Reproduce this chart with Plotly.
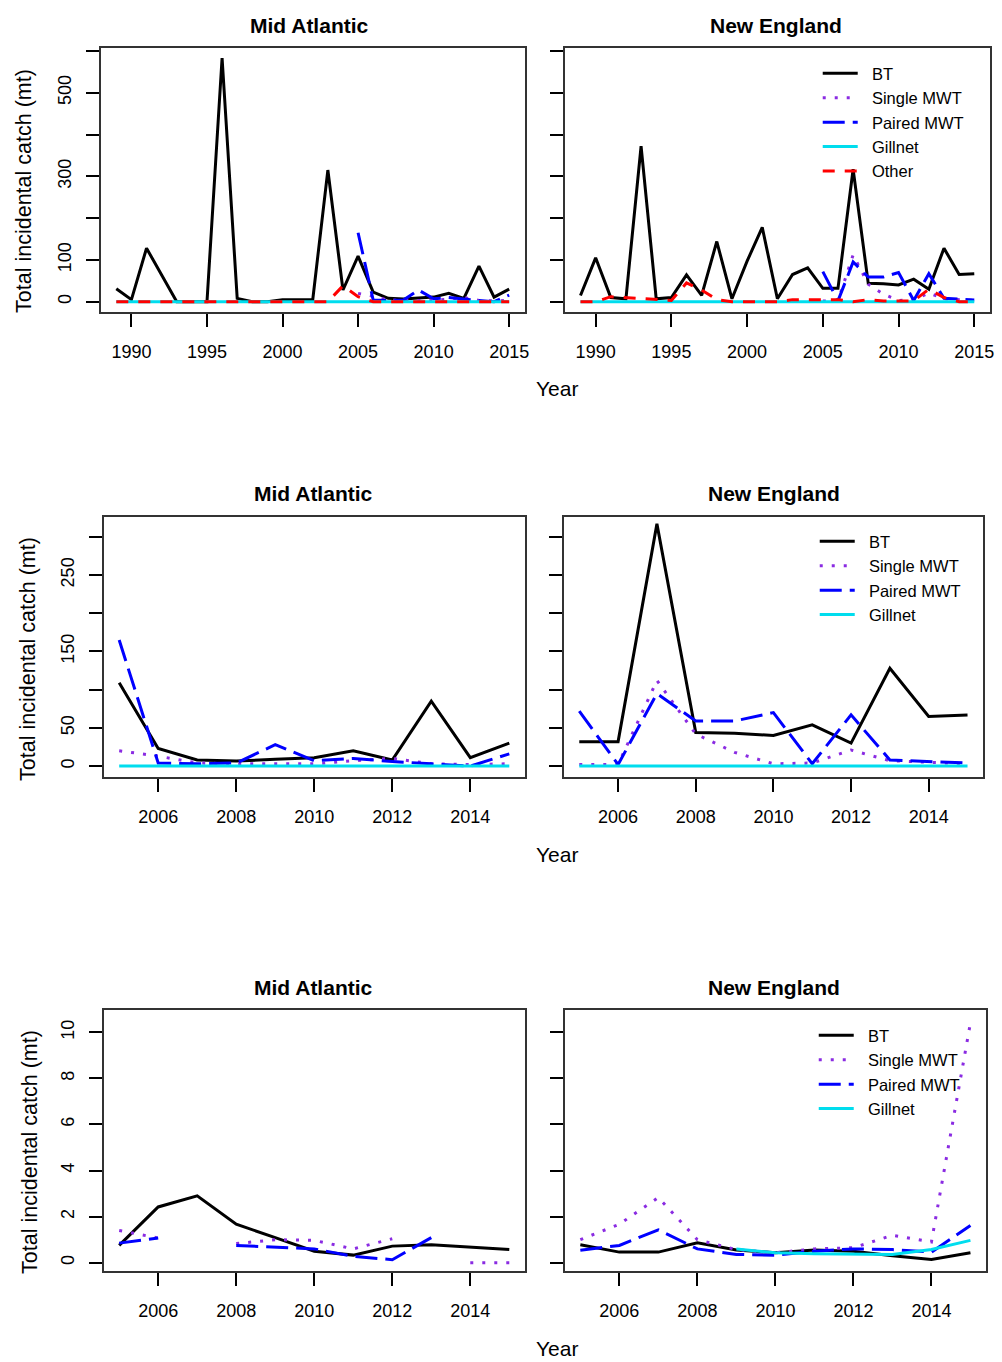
import plotly.graph_objects as go

# ---------------- data ----------------
years_long = list(range(1989, 2016))
years_short = list(range(2005, 2016))

# Row 1: full time series (1989-2015)
ma_bt_long = [31, 5, 128, 64, 0, 0, 0, 583, 8, 0, 0, 5, 5, 5, 315, 28,
              109, 23, 8, 6.5, 9, 11, 20, 8, 85, 11, 30]
ma_other_long = [0, 0, 0, 0, 0, 0, 0, 0, 0, 0, 0, 0, 0, 0, 0, 38,
                 12, 0, 0, 0, 0, 0, 0, 0, 0, 0, 0]
ma_gill_long = [0, 0, 0, 0, 0, 0, 0, 0, 0, 0, 0, 0, 0, 0, 0, 0,
                0, 0, 0, 0, 0, 0, 0, 0, 0, 0, 0]
ne_bt_long = [15, 105, 10, 7, 372, 7, 10, 64, 15, 144, 7, 97, 178, 7, 65, 81,
              32, 32, 317, 44, 43, 40, 54, 30, 128, 65, 67]
ne_other_long = [0, 0, 12, 10, 8, 5, 3, 45, 28, 5, 0, 0, 0, 0, 5, 5,
                 5, 5, 0, 5, 2, 2, 2, 30, 10, 0, 0]
ne_gill_long = [0, 0, 0, 0, 0, 0, 0, 0, 0, 0, 0, 0, 0, 0, 0, 0,
                0, 0, 0, 0, 0, 0, 0, 0, 0, 0, 0]

# Row 2: 2005-2015
ma_bt = [109, 23, 8, 6.5, 9, 11, 20, 8, 85, 11, 30]
ma_single = [20, 13, 4, 3, 3, 3, 7, 10, 3, 2, 3]
ma_paired = [165, 4, 3, 4, 28, 7, 10, 6, 3, 0, 16]
ma_gill = [0, 0, 0, 0, 0, 0, 0, 0, 0, 0, 0]
ne_bt = [32, 32, 317, 44, 43, 40, 54, 30, 128, 65, 67]
ne_single = [2, 2, 112, 42, 18, 3, 4, 21, 7, 5, 3]
ne_paired = [72, 2, 95, 59, 59, 70, 3, 67, 8, 6, 4]
ne_gill = [0, 0, 0, 0, 0, 0, 0, 0, 0, 0, 0]

# Row 3: 2005-2015 (smaller scale)
ma3_bt = [0.75, 2.42, 2.9, 1.67, 1.09, 0.5, 0.33, 0.72, 0.78, 0.68, 0.57]
ma3_single = [1.4, 1.07, None, 0.83, 1.0, 0.97, 0.6, 1.04, None, 0.0, 0.0]
ma3_paired = [0.85, 1.07, None, 0.75, 0.68, 0.6, 0.28, 0.13, 1.09, None, None]
ne3_bt = [0.78, 0.46, 0.46, 0.87, 0.55, 0.43, 0.55, 0.5, 0.3, 0.14, 0.43]
ne3_single = [1.0, 1.67, 2.83, 1.0, 0.57, 0.43, 0.6, 0.65, 1.19, 0.9, 10.42]
ne3_paired = [0.54, 0.75, 1.43, 0.6, 0.36, 0.32, 0.5, 0.6, 0.57, 0.46, 1.62]
ne3_gill = [None, None, None, None, 0.6, 0.43, 0.39, 0.39, 0.36, 0.57, 0.97]

panel_titles = ["Mid Atlantic", "New England"]
y_title = "Total incidental catch (mt)"
x_title = "Year"

# ---------------- styles ----------------
W, H = 1002, 1362
FONT = "Liberation Sans, Arial, sans-serif"
STY = {
    "BT": dict(color="black", width=3, dash="solid"),
    "Single MWT": dict(color="#8A2BE2", width=3, dash="3px,9px"),
    "Paired MWT": dict(color="#0000FF", width=3, dash="22px,8px"),
    "Gillnet": dict(color="#00DDEE", width=3, dash="solid"),
    "Other": dict(color="#FF0000", width=3, dash="12px,10px"),
}
PAD = "\u00a0\u00a0"  # spacing between legend sample and label


def fx(p):
    return p / W


def fy(p):
    return 1 - p / H


fig = go.Figure()

# panel geometry (pixels): x0, x1, y0(top), y1(bottom)
panels = [
    (101, 527, 48, 312), (567, 994, 48, 312),
    (104, 527, 517, 777), (566, 987, 517, 777),
    (104, 527, 1010, 1271), (567, 990, 1010, 1271),
]
xranges = [[1987.96, 2016.04]] * 2 + [[2004.6, 2015.4]] * 4
yranges = [[-24.6, 607]] * 2 + [[-14.3, 326]] * 2 + [[-0.36, 10.97]] * 2
xticks = [[1990, 1995, 2000, 2005, 2010, 2015]] * 2 + [[2006, 2008, 2010, 2012, 2014]] * 4
yticks = [
    ([0, 100, 200, 300, 400, 500, 600], ["0", "100", "", "300", "", "500", ""]),
    ([0, 100, 200, 300, 400, 500, 600], [""] * 7),
    ([0, 50, 100, 150, 200, 250, 300], ["0", "50", "", "150", "", "250", ""]),
    ([0, 50, 100, 150, 200, 250, 300], [""] * 7),
    ([0, 2, 4, 6, 8, 10], ["0", "2", "4", "6", "8", "10"]),
    ([0, 2, 4, 6, 8, 10], [""] * 6),
]

layout = dict(
    width=W, height=H, margin=dict(l=0, r=0, t=0, b=0),
    paper_bgcolor="white", plot_bgcolor="white",
    font=dict(family=FONT, color="black"),
)

for i, (x0, x1, y0, y1) in enumerate(panels):
    k = "" if i == 0 else str(i + 1)
    common = dict(showline=True, mirror=True, linecolor="#333", linewidth=1.5,
                  ticks="outside", ticklen=13, tickwidth=2, tickcolor="black",
                  showgrid=False, zeroline=False,
                  tickfont=dict(family=FONT, size=18, color="black"))
    layout["xaxis" + k] = dict(common, domain=[fx(x0), fx(x1)], range=xranges[i],
                               anchor="y" + k, tickmode="array", tickvals=xticks[i],
                               ticklabelstandoff=10)
    layout["yaxis" + k] = dict(common, domain=[fy(y1), fy(y0)], range=yranges[i],
                               anchor="x" + k, tickmode="array",
                               tickvals=yticks[i][0], ticktext=yticks[i][1],
                               tickangle=-90, ticklabelstandoff=8)


def add(i, x, y, name, legend=None):
    k = "" if i == 0 else str(i + 1)
    fig.add_trace(go.Scatter(
        x=x, y=y, mode="lines", name=PAD + name, line=STY[name],
        xaxis="x" + k, yaxis="y" + k,
        showlegend=legend is not None, legend=legend or "legend",
        connectgaps=False, hoverinfo="skip"))


# Row 1
add(0, years_long, ma_bt_long, "BT")
add(0, years_short, ma_single, "Single MWT")
add(0, years_short, ma_paired, "Paired MWT")
add(0, years_long, ma_gill_long, "Gillnet")
add(0, years_long, ma_other_long, "Other")
add(1, years_long, ne_bt_long, "BT", "legend")
add(1, years_short, ne_single, "Single MWT", "legend")
add(1, years_short, ne_paired, "Paired MWT", "legend")
add(1, years_long, ne_gill_long, "Gillnet", "legend")
add(1, years_long, ne_other_long, "Other", "legend")
# Row 2
add(2, years_short, ma_bt, "BT")
add(2, years_short, ma_single, "Single MWT")
add(2, years_short, ma_paired, "Paired MWT")
add(2, years_short, ma_gill, "Gillnet")
add(3, years_short, ne_bt, "BT", "legend2")
add(3, years_short, ne_single, "Single MWT", "legend2")
add(3, years_short, ne_paired, "Paired MWT", "legend2")
add(3, years_short, ne_gill, "Gillnet", "legend2")
# Row 3
add(4, years_short, ma3_bt, "BT")
add(4, years_short, ma3_single, "Single MWT")
add(4, years_short, ma3_paired, "Paired MWT")
add(5, years_short, ne3_bt, "BT", "legend3")
add(5, years_short, ne3_single, "Single MWT", "legend3")
add(5, years_short, ne3_paired, "Paired MWT", "legend3")
add(5, years_short, ne3_gill, "Gillnet", "legend3")

leg_common = dict(xanchor="left", yanchor="top", bgcolor="rgba(0,0,0,0)",
                  borderwidth=0, font=dict(family=FONT, size=16.5, color="black"),
                  tracegroupgap=0, itemwidth=35)
layout["legend"] = dict(leg_common, x=fx(821), y=fy(56))
layout["legend2"] = dict(leg_common, x=fx(818), y=fy(524))
layout["legend3"] = dict(leg_common, x=fx(817), y=fy(1018))

ann = []
title_pos = [(311, 25), (779, 25), (315, 493), (777, 493), (315, 987), (777, 987)]
for j, (tx, ty) in enumerate(title_pos):
    ann.append(dict(x=fx(tx), y=fy(ty), xref="paper", yref="paper", showarrow=False,
                    text="<b>%s</b>" % panel_titles[j % 2],
                    font=dict(family=FONT, size=21, color="black"),
                    xanchor="center", yanchor="middle"))
for (tx, ty) in [(24, 191), (28, 659), (30, 1152)]:
    ann.append(dict(x=fx(tx), y=fy(ty), xref="paper", yref="paper", showarrow=False,
                    text=y_title, textangle=-90,
                    font=dict(family=FONT, size=21.5, color="black"),
                    xanchor="center", yanchor="middle"))
for ty in [388, 854, 1348]:
    ann.append(dict(x=fx(559), y=fy(ty), xref="paper", yref="paper", showarrow=False,
                    text=x_title, font=dict(family=FONT, size=21, color="black"),
                    xanchor="center", yanchor="middle"))
layout["annotations"] = ann

fig.update_layout(**layout)
fig.write_html("out.html", config={"displayModeBar": False},
               post_script="document.body.style.margin='0';"
                           "document.body.style.overflow='hidden';")
